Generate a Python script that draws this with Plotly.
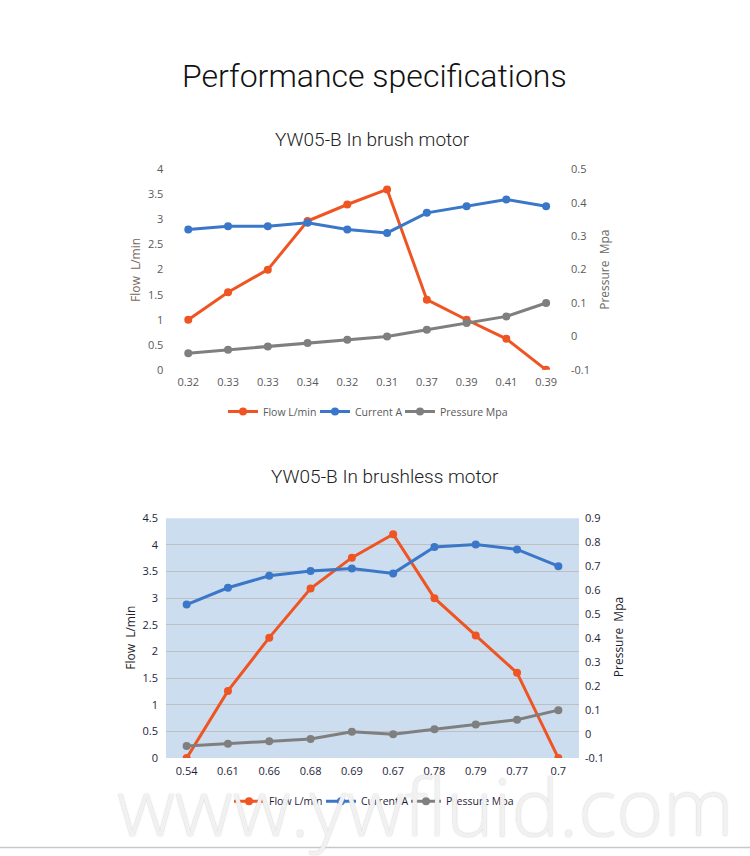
import plotly.graph_objects as go

W, H = 750, 856

# ---------------- data ----------------
series_names = ["Flow L/min", "Current A", "Pressure Mpa"]

brush_labels = ["0.32", "0.33", "0.33", "0.34", "0.32", "0.31", "0.37", "0.39", "0.41", "0.39"]
brush_flow = [1.0, 1.55, 2.0, 2.97, 3.3, 3.6, 1.4, 1.0, 0.62, 0.0]
brush_current = [0.32, 0.33, 0.33, 0.34, 0.32, 0.31, 0.37, 0.39, 0.41, 0.39]
brush_pressure = [-0.05, -0.04, -0.03, -0.02, -0.01, 0.0, 0.02, 0.04, 0.06, 0.1]

bl_labels = ["0.54", "0.61", "0.66", "0.68", "0.69", "0.67", "0.78", "0.79", "0.77", "0.7"]
bl_flow = [0.0, 1.26, 2.26, 3.18, 3.76, 4.2, 3.0, 2.3, 1.6, 0.0]
bl_current = [0.54, 0.61, 0.66, 0.68, 0.69, 0.67, 0.78, 0.79, 0.77, 0.70]
bl_pressure = [-0.05, -0.04, -0.03, -0.02, 0.01, 0.0, 0.02, 0.04, 0.06, 0.1]

brush_left_ticks = [0, 0.5, 1, 1.5, 2, 2.5, 3, 3.5, 4]
brush_left_text = ["0", "0.5", "1", "1.5", "2", "2.5", "3", "3.5", "4"]
brush_right_ticks = [-0.1, 0, 0.1, 0.2, 0.3, 0.4, 0.5]
brush_right_text = ["-0.1", "0", "0.1", "0.2", "0.3", "0.4", "0.5"]

bl_left_ticks = [0, 0.5, 1, 1.5, 2, 2.5, 3, 3.5, 4, 4.5]
bl_left_text = ["0", "0.5", "1", "1.5", "2", "2.5", "3", "3.5", "4", "4.5"]
bl_right_ticks = [-0.1, 0, 0.1, 0.2, 0.3, 0.4, 0.5, 0.6, 0.7, 0.8, 0.9]
bl_right_text = ["-0.1", "0", "0.1", "0.2", "0.3", "0.4", "0.5", "0.6", "0.7", "0.8", "0.9"]

# ---------------- styles ----------------
C_FLOW = "#EF5522"
C_CUR = "#3A77C9"
C_PRES = "#7F7F7F"
colors = [C_FLOW, C_CUR, C_PRES]
legend_widths = [47, 40, None]


def px(v):
    return v / W


def py(v):
    return 1 - v / H


TICKFONT = "Open Sans"
TITLEFONT = "Roboto"

fig = go.Figure()

idx_top = list(range(len(brush_labels)))
idx_bot = list(range(len(bl_labels)))

top_series = [(brush_flow, "y"), (brush_current, "y2"), (brush_pressure, "y2")]
for name, col, lw, (vals, ya) in zip(series_names, colors, legend_widths, top_series):
    fig.add_trace(go.Scatter(
        x=idx_top, y=vals, name=name, mode="lines+markers",
        line=dict(color=col, width=3), marker=dict(color=col, size=8),
        xaxis="x", yaxis=ya, legend="legend", hoverinfo="skip", legendwidth=lw))

bot_series = [(bl_flow, "y3"), (bl_current, "y4"), (bl_pressure, "y4")]
for name, col, lw, (vals, ya) in zip(series_names, colors, legend_widths, bot_series):
    fig.add_trace(go.Scatter(
        x=idx_bot, y=vals, name=name, mode="lines+markers",
        line=dict(color=col, width=3), marker=dict(color=col, size=8),
        xaxis="x2", yaxis=ya, legend="legend2", hoverinfo="skip", legendwidth=lw))

top_tick = dict(family=TICKFONT, size=11, color="#595959")
bot_tick = dict(family=TICKFONT, size=11, color="#1E1E3C")

fig.update_layout(
    width=W, height=H, margin=dict(l=0, r=0, t=0, b=0),
    paper_bgcolor="white", plot_bgcolor="rgba(0,0,0,0)",
    xaxis=dict(domain=[px(168.4), px(566)], anchor="y", range=[-0.5, len(brush_labels) - 0.5],
               tickvals=idx_top, ticktext=brush_labels, showgrid=False, zeroline=False,
               showline=False, ticks="", tickfont=top_tick, ticklabelstandoff=4),
    yaxis=dict(domain=[py(368.3), py(164.3)], anchor="x", range=[0, 4],
               tickvals=brush_left_ticks, ticktext=brush_left_text, showgrid=False,
               zeroline=False, showline=False, ticks="", tickfont=top_tick, ticklabelstandoff=4),
    yaxis2=dict(overlaying="y", side="right", anchor="x", range=[-0.1, 0.5],
                tickvals=brush_right_ticks, ticktext=brush_right_text, showgrid=False,
                zeroline=False, showline=False, ticks="", tickfont=top_tick, ticklabelstandoff=4),
    xaxis2=dict(domain=[px(166), px(579)], anchor="y3", range=[-0.5, len(bl_labels) - 0.5],
                tickvals=idx_bot, ticktext=bl_labels, showgrid=False, zeroline=False,
                showline=False, ticks="", tickfont=bot_tick, ticklabelstandoff=5),
    yaxis3=dict(domain=[py(763.5), py(519.3)], anchor="x2", range=[0, 4.5],
                tickvals=bl_left_ticks, ticktext=bl_left_text, showgrid=True,
                gridcolor="#BFBFBF", gridwidth=1, zeroline=False, showline=False,
                ticks="", tickfont=bot_tick, ticklabelstandoff=7),
    yaxis4=dict(overlaying="y3", side="right", anchor="x2", range=[-0.1, 0.9],
                tickvals=bl_right_ticks, ticktext=bl_right_text, showgrid=False,
                zeroline=False, showline=False, ticks="", tickfont=bot_tick, ticklabelstandoff=5),
    legend=dict(orientation="h", x=px(368), y=py(410.7), xanchor="center", yanchor="middle",
                font=dict(family=TICKFONT, size=10.5, color="#595959"), itemwidth=30,
                bgcolor="rgba(0,0,0,0)", traceorder="normal"),
    legend2=dict(orientation="h", x=px(374), y=py(807.5), xanchor="center", yanchor="middle",
                 font=dict(family=TICKFONT, size=10.5, color="#1E1E3C"), itemwidth=30,
                 bgcolor="rgba(0,0,0,0)", traceorder="normal"),
    showlegend=True,
)

# bottom plot background
fig.add_shape(type="rect", xref="x2 domain", yref="y3 domain", x0=0, x1=1, y0=0, y1=1,
              fillcolor="#CCDDF0", line=dict(width=0), layer="below")
# bottom separator line
fig.add_shape(type="line", xref="paper", yref="paper", x0=0, x1=1, y0=py(854.5), y1=py(854.5),
              line=dict(color="#C8C8C8", width=1.5))

ann = []
ann.append(dict(text="Performance specifications", x=px(374), y=py(69), xref="paper", yref="paper",
                showarrow=False, xanchor="center", yanchor="middle",
                font=dict(family=TITLEFONT, size=32, color="#111111", weight=300)))
ann.append(dict(text="YW05-B In brush motor", x=px(372.5), y=py(134), xref="paper", yref="paper",
                showarrow=False, xanchor="center", yanchor="middle",
                font=dict(family=TITLEFONT, size=19, color="#222222", weight=300)))
ann.append(dict(text="YW05-B In brushless motor", x=px(384.5), y=py(477), xref="paper", yref="paper",
                showarrow=False, xanchor="center", yanchor="middle",
                font=dict(family=TITLEFONT, size=19, color="#222222", weight=300)))
# axis titles
ann.append(dict(text="Flow  L/min", x=px(135), y=py(266.7), xref="paper", yref="paper",
                showarrow=False, textangle=-90, xanchor="center", yanchor="middle",
                font=dict(family=TICKFONT, size=12, color="#7A665A")))
ann.append(dict(text="Pressure  Mpa", x=px(605), y=py(266.5), xref="paper", yref="paper",
                showarrow=False, textangle=-90, xanchor="center", yanchor="middle",
                font=dict(family=TICKFONT, size=12, color="#6A6A6A")))
ann.append(dict(text="Flow  L/min", x=px(131), y=py(641), xref="paper", yref="paper",
                showarrow=False, textangle=-90, xanchor="center", yanchor="middle",
                font=dict(family=TICKFONT, size=12, color="#1E1E2E")))
ann.append(dict(text="Pressure  Mpa", x=px(618.4), y=py(640), xref="paper", yref="paper",
                showarrow=False, textangle=-90, xanchor="center", yanchor="middle",
                font=dict(family=TICKFONT, size=12, color="#1E1E2E")))
# watermark
ann.append(dict(text="www.ywfluid.com", x=px(425), y=py(811), xref="paper", yref="paper",
                showarrow=False, xanchor="center", yanchor="middle",
                font=dict(family="Open Sans", size=80, color="rgba(244,244,244,0.93)", weight=300,
                          shadow="0px 0px 1.5px #bdbdbd")))
fig.update_layout(annotations=ann)

fig.write_html("out.html", config={"displayModeBar": False},
               post_script="document.body.style.margin='0';document.body.style.overflow='hidden';")
